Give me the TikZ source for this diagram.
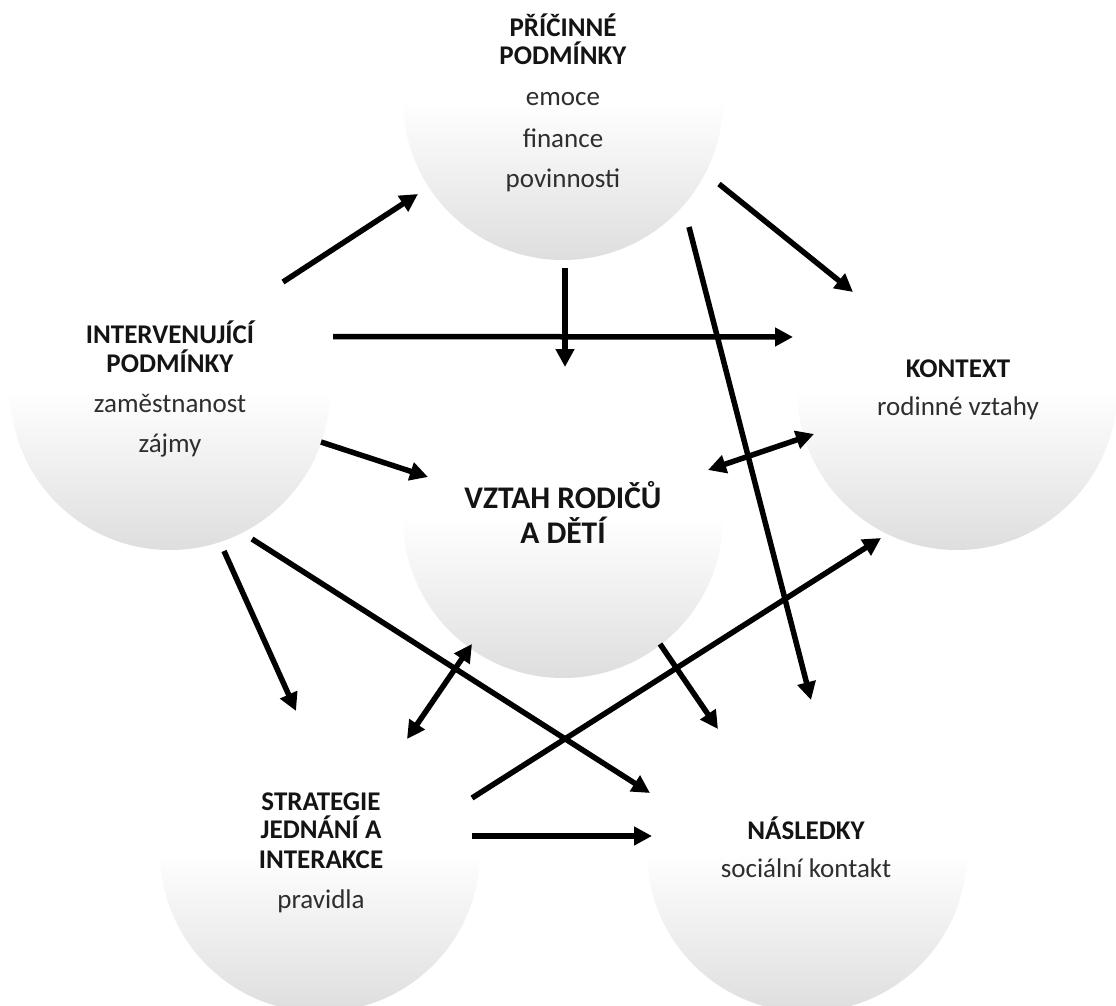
\documentclass[tikz,border=0pt]{standalone}
\usepackage{fontspec}
\setmainfont{Carlito}
\usetikzlibrary{arrows.meta}
\begin{document}
\begin{tikzpicture}[x=1pt,y=-1pt,
  bubble/.style={circle, minimum size=320pt, inner sep=0pt, draw=none,
    top color=white, bottom color=black!13, middle color=white},
  head/.style={font=\bfseries\fontsize{27}{31}\selectfont, anchor=base, inner sep=0pt, text=black!92},
  item/.style={font=\fontsize{27}{31}\selectfont, anchor=base, inner sep=0pt, text=black!82},
  big/.style={font=\bfseries\fontsize{31.5}{36}\selectfont, anchor=base, inner sep=0pt, text=black!92},
  arr/.style={line width=5.5pt, -{Triangle[length=18pt,width=18pt]}},
  darr/.style={line width=5.5pt, {Triangle[length=18pt,width=18pt]}-{Triangle[length=18pt,width=18pt]}}]
\useasboundingbox (0,0) rectangle (1116,1006);
\clip (0,0) rectangle (1116,1006);
\fill[white] (0,0) rectangle (1116,1006);

% circles
\node[bubble] (pric) at (563,100) {};
\node[bubble] (interv) at (170,390) {};
\node[bubble] (vztah) at (563,518) {};
\node[bubble] (kontext) at (957,390) {};
\node[bubble] (strat) at (320,852) {};
\node[bubble] (nasl) at (807,852) {};

% texts
\node[head] (t1a) at (563,37) {PŘÍČINNÉ};
\node[head] (t1b) at (563,65) {PODMÍNKY};
\node[item] (t1c) at (563,106) {emoce};
\node[item] (t1d) at (563,147) {finance};
\node[item] (t1e) at (563,187) {povinnosti};

\node[head] (t2a) at (170,343) {INTERVENUJÍCÍ};
\node[head] (t2b) at (170,372) {PODMÍNKY};
\node[item] (t2c) at (170,412) {zaměstnanost};
\node[item] (t2d) at (170,452) {zájmy};

\node[big] (t3a) at (563,508) {VZTAH RODIČŮ};
\node[big] (t3b) at (563,543) {A DĚTÍ};

\node[head] (t4a) at (958,377) {KONTEXT};
\node[item] (t4b) at (958,415) {rodinné vztahy};

\node[head] (t5a) at (321,810) {STRATEGIE};
\node[head] (t5b) at (321,838) {JEDNÁNÍ A};
\node[head] (t5c) at (321,868) {INTERAKCE};
\node[item] (t5d) at (321,908) {pravidla};

\node[head] (t6a) at (806,839) {NÁSLEDKY};
\node[item] (t6b) at (806,877) {sociální kontakt};

% connector end points
\coordinate (a1s) at (283,282);  \coordinate (a1e) at (418,194);
\coordinate (a2s) at (565,268);  \coordinate (a2e) at (565,367);
\coordinate (a3s) at (719,184);  \coordinate (a3e) at (853,292);
\coordinate (a4s) at (689,227);  \coordinate (a4e) at (811,700);
\coordinate (a5s) at (333,336.5);\coordinate (a5e) at (793,337);
\coordinate (a6s) at (321,442);  \coordinate (a6e) at (428,477);
\coordinate (a7s) at (708,470);  \coordinate (a7e) at (814,434);
\coordinate (a8s) at (224,551);  \coordinate (a8e) at (296,711);
\coordinate (a9s) at (252,539);  \coordinate (a9e) at (650,793);
\coordinate (a10s) at (472,644); \coordinate (a10e) at (407,739);
\coordinate (a11s) at (660,644); \coordinate (a11e) at (718,729);
\coordinate (a12s) at (472,798); \coordinate (a12e) at (881,538);
\coordinate (a13s) at (472,836); \coordinate (a13e) at (652,836);

% connectors
\draw[arr] (a1s) -- (a1e);   % interv -> pric
\draw[arr] (a2s) -- (a2e);   % pric -> vztah
\draw[arr] (a3s) -- (a3e);   % pric -> kontext
\draw[arr] (a4s) -- (a4e);   % pric -> nasl
\draw[arr] (a5s) -- (a5e);   % interv -> kontext
\draw[arr] (a6s) -- (a6e);   % interv -> vztah
\draw[darr] (a7s) -- (a7e);  % vztah <-> kontext
\draw[arr] (a8s) -- (a8e);   % interv -> strat
\draw[arr] (a9s) -- (a9e);   % interv -> nasl
\draw[darr] (a10s) -- (a10e);% vztah <-> strat
\draw[arr] (a11s) -- (a11e); % vztah -> nasl
\draw[arr] (a12s) -- (a12e); % strat -> kontext
\draw[arr] (a13s) -- (a13e); % strat -> nasl
\end{tikzpicture}
\end{document}
